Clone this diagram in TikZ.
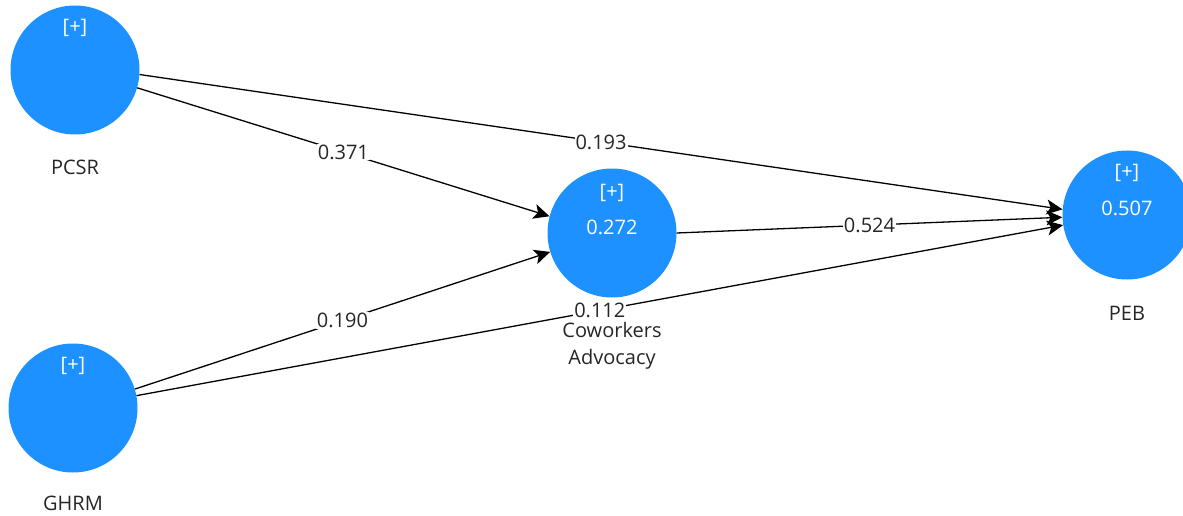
\documentclass[tikz,border=0pt]{standalone}
\usepackage{fontspec}
\setmainfont{Open Sans}
\usetikzlibrary{arrows.meta}
\definecolor{lvblue}{RGB}{28,145,255}
\begin{document}
\begin{tikzpicture}[x=1pt,y=-1pt,
  lv/.style={circle,fill=lvblue,minimum size=129pt,inner sep=0pt},
  arr/.style={draw=black,line width=1.3pt,-{Stealth[length=16pt,width=15pt,inset=4pt]}},
  coef/.style={fill=white,inner sep=1pt,font=\fontsize{20}{23}\selectfont,text=black!85},
  lbl/.style={font=\fontsize{20}{27}\selectfont,align=center,text=black!85},
  inn/.style={text=white,font=\fontsize{20}{23}\selectfont}]
\useasboundingbox (0,0) rectangle (1183,516);
% latent variables
\node[lv] (pcsr) at (75,70) {};
\node[lv] (ghrm) at (73,408) {};
\node[lv] (cwa) at (612,233) {};
\node[lv] (peb) at (1127,215) {};
% inner texts
\node[inn] (pcsrp) at (75,28) {[+]};
\node[inn] (ghrmp) at (73,366) {[+]};
\node[inn] (cwap) at (612,193) {[+]};
\node[inn] (cwar) at (612,227) {0.272};
\node[inn] (pebp) at (1127,173) {[+]};
\node[inn] (pebr) at (1127,208) {0.507};
% labels
\node[lbl] (pcsrl) at (75,167) {PCSR};
\node[lbl] (ghrml) at (73,503) {GHRM};
\node[lbl] (pebl) at (1127,313) {PEB};
\node[lbl] (cwal) at (612,346) {Coworkers\\Advocacy};
% paths
\draw[arr] (pcsr.-4) -- node[coef] (c1) {0.193} (peb.175);
\draw[arr] (pcsr.-16) -- node[coef] (c2) {0.371} (cwa.165);
\draw[arr] (ghrm.17) -- node[coef] (c3) {0.190} (cwa.197);
\draw[arr] (ghrm.11) -- node[coef] (c4) {0.112} (peb.189);
\draw[arr] (cwa.0) -- node[coef] (c5) {0.524} (peb.182);
\end{tikzpicture}
\end{document}
